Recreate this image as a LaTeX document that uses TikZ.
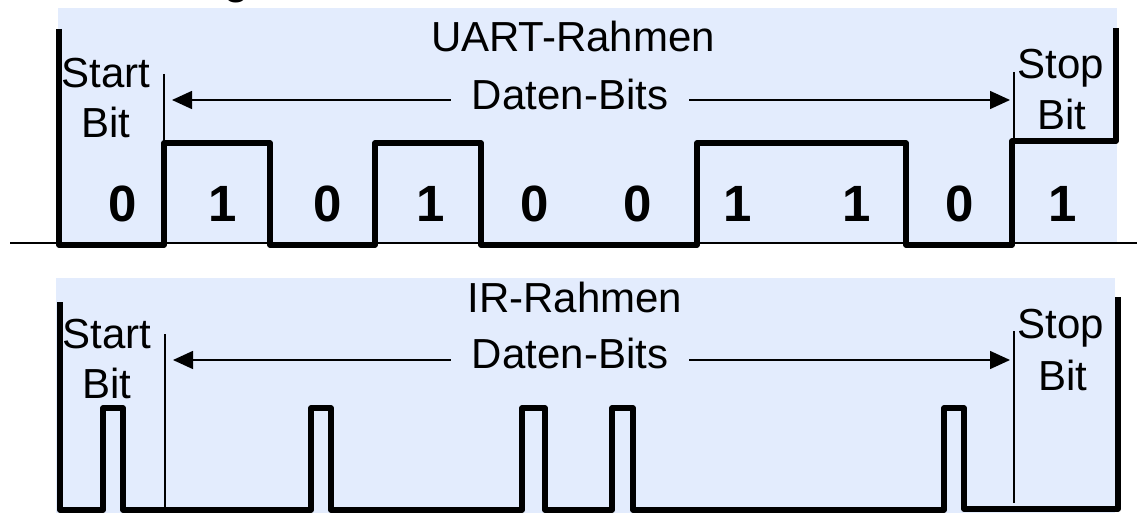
\documentclass[tikz,border=0pt]{standalone}
\usepackage{fontspec}
\setmainfont{Liberation Sans}
\usetikzlibrary{arrows.meta}
\definecolor{panelbg}{RGB}{227,236,253}
\begin{document}
\begin{tikzpicture}[x=1pt,y=-1pt,
  lbl/.style={inner sep=0pt,anchor=base,font=\fontsize{42}{50}\selectfont},
  bitval/.style={inner sep=0pt,anchor=base,font=\fontsize{51}{60}\selectfont\bfseries},
  wave/.style={line width=5.5pt,line join=round},
  marker/.style={line width=1.5pt},
  span/.style={line width=1.5pt,-{Triangle[length=20pt,width=18pt]}}]
\useasboundingbox (0,0) rectangle (1137,513);

% panel backgrounds
\fill[panelbg] (58,8) rectangle (1117,243);
\fill[panelbg] (56,278) rectangle (1115,513);

% heading (only its lower edge falls inside the page)
\node[inner sep=0pt,anchor=base,font=\fontsize{40}{48}\selectfont\bfseries] (head) at (237,-5.5) {g};

% ---------- UART frame ----------
\draw[line width=1.5pt] (10,243) -- (1137,243);
\draw[wave] (59,29) -- (59,245) -- (164,245) -- (164,143) -- (270,143) -- (270,245)
  -- (375,245) -- (375,143) -- (481,143) -- (481,245) -- (697,245) -- (697,143)
  -- (906,143) -- (906,245) -- (1012,245) -- (1012,141) -- (1116,141) -- (1116,28);

\node[lbl] (uart) at (573,52) {UART-Rahmen};
\node[lbl] (startA) at (106,88) {Start};
\node[lbl] (sbitA) at (106,138) {Bit};
\node[lbl] (stopA) at (1061,79) {Stop};
\node[lbl] (pbitA) at (1062,130) {Bit};
\node[lbl,inner xsep=21pt] (datA) at (570,110) {Daten-Bits};

\coordinate (mA1) at (164,74);
\coordinate (mA2) at (1014,72);
\draw[marker] (mA1) -- (164,141);
\draw[marker] (mA2) -- (1014,138);
\coordinate (tA1) at (172,100);
\coordinate (tA2) at (1010,100);
\draw[span] (datA.west |- tA1) -- (tA1);
\draw[span] (datA.east |- tA2) -- (tA2);

\foreach \x/\v [count=\i] in {123/0,223/1,328/0,431/1,535/0,638/0,738/1,857/1,960/0,1063/1}
  \node[bitval] (b\i) at (\x,222) {\v};

% ---------- IR frame ----------
\draw[wave] (60,302) -- (60,510) -- (103,510) -- (103,408) -- (123,408) -- (123,510)
  -- (311,510) -- (311,408) -- (331,408) -- (331,510) -- (522,510) -- (522,408)
  -- (545,408) -- (545,510) -- (612,510) -- (612,408) -- (633,408) -- (633,510)
  -- (944,510) -- (944,408) -- (964,408) -- (964,509) -- (1118,509) -- (1118,297);

\node[lbl] (ir) at (575,312) {IR-Rahmen};
\node[lbl] (startB) at (107,348) {Start};
\node[lbl] (sbitB) at (107,398) {Bit};
\node[lbl] (stopB) at (1061,338) {Stop};
\node[lbl] (pbitB) at (1063,390) {Bit};
\node[lbl,inner xsep=21pt] (datB) at (570,368) {Daten-Bits};

\coordinate (mB1) at (165,334);
\coordinate (mB2) at (1014,331);
\draw[marker] (mB1) -- (165,510);
\draw[marker] (mB2) -- (1014,503);
\coordinate (tB1) at (173,360);
\coordinate (tB2) at (1010,360);
\draw[span] (datB.west |- tB1) -- (tB1);
\draw[span] (datB.east |- tB2) -- (tB2);
\end{tikzpicture}
\end{document}
